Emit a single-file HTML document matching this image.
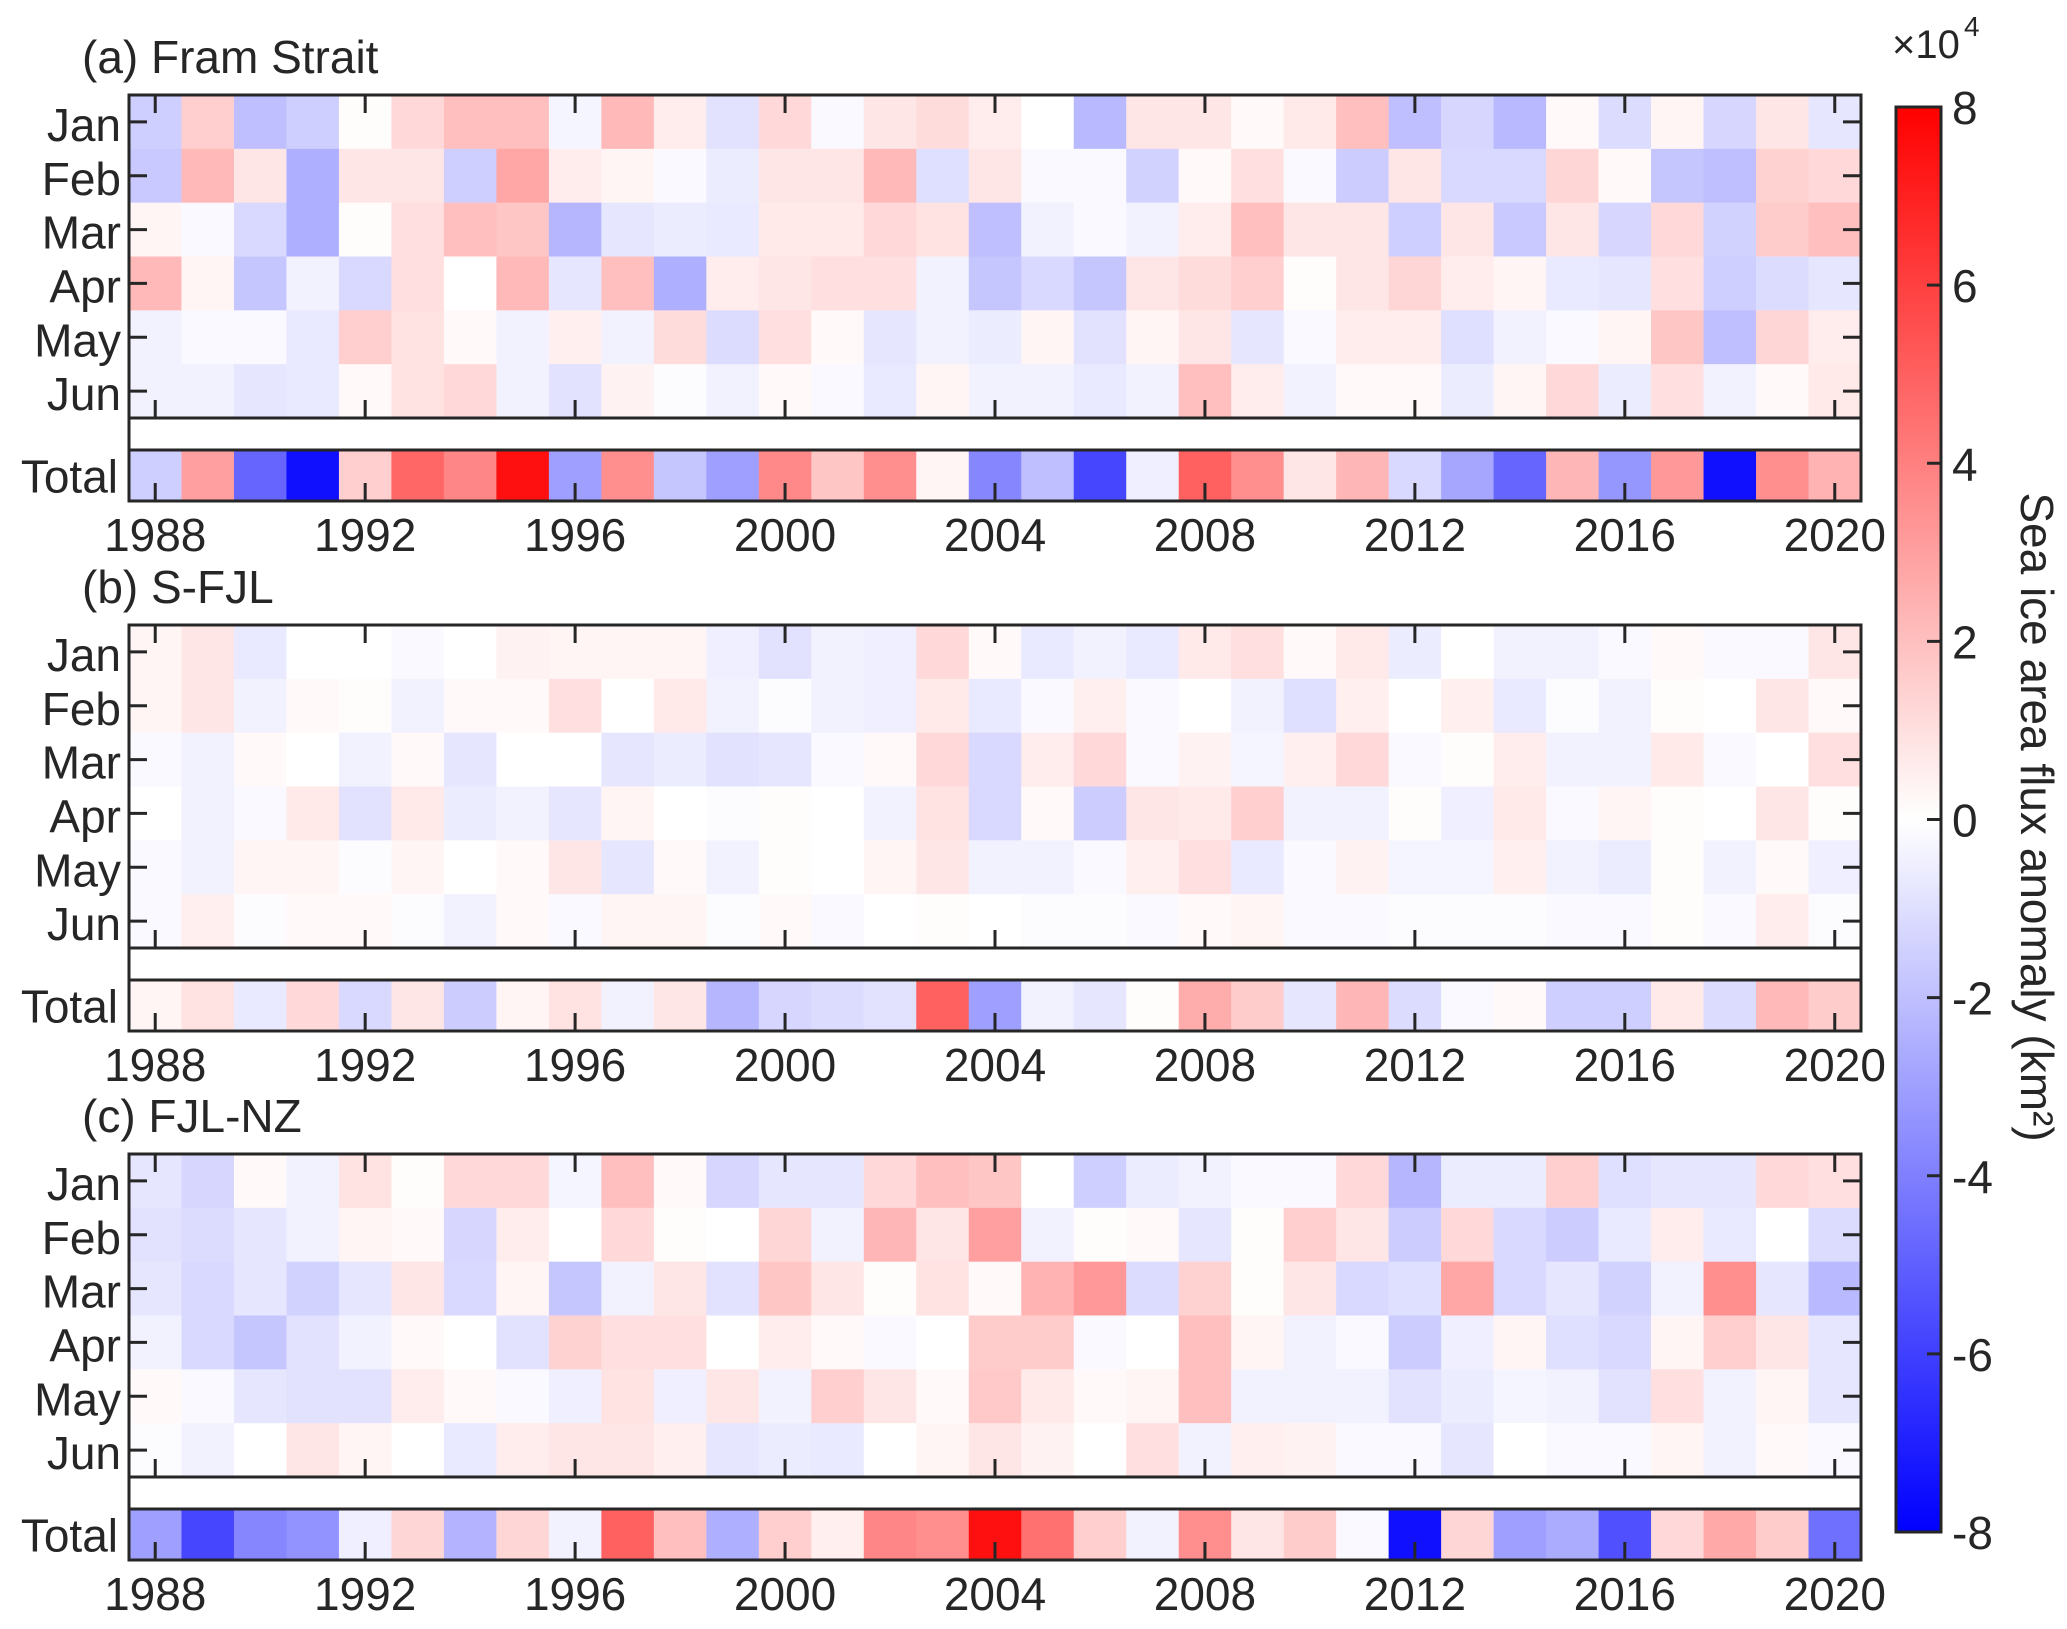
<!DOCTYPE html>
<html><head><meta charset="utf-8"><style>
html,body{margin:0;padding:0;background:#fff}
svg{display:block}
text{font-family:"Liberation Sans",Arial,sans-serif;fill:#262626}
</style></head><body>
<svg id="chart" width="2067" height="1629" viewBox="0 0 2067 1629" xmlns="http://www.w3.org/2000/svg">
<defs>
<linearGradient id="cbgrad" x1="0" y1="0" x2="0" y2="1">
<stop offset="0" stop-color="#ff0000"/><stop offset="0.5" stop-color="#ffffff"/><stop offset="1" stop-color="#0000ff"/>
</linearGradient>
</defs>
</svg>
<script>
const years = [1988,1989,1990,1991,1992,1993,1994,1995,1996,1997,1998,1999,2000,2001,2002,2003,2004,2005,2006,2007,2008,2009,2010,2011,2012,2013,2014,2015,2016,2017,2018,2019,2020];
const months = ["Jan","Feb","Mar","Apr","May","Jun"];
const yearTicks = [1988,1992,1996,2000,2004,2008,2012,2016,2020];
const cbTicks = [8,6,4,2,0,-2,-4,-6,-8];
const panelTitles = ["(a) Fram Strait","(b) S-FJL","(c) FJL-NZ"];
// values in units of 1e4 km^2
const framMonthly = [
[-1.5,1.5,-2,-1.5,0.1,1.2,2,2,-0.3,2.2,0.6,-0.9,1.2,-0.2,0.8,1.1,0.6,0,-2.2,0.8,0.8,0.2,0.7,2,-2,-1.3,-2.2,0.2,-1.1,0.3,-1.3,0.8,-0.8],
[-1.7,2.2,0.8,-2.5,0.8,0.8,-1.5,2.8,0.6,0.3,-0.2,-0.6,0.8,0.8,2.2,-1,0.8,-0.2,-0.2,-1.4,0.2,1,-0.2,-1.6,0.8,-1.2,-1.2,1.3,0.2,-1.8,-2,1.4,1.2],
[0.3,-0.2,-1.2,-2.5,0.1,1,2,1.8,-2.3,-0.8,-0.6,-0.7,0.7,0.7,1.2,0.9,-2,-0.4,-0.2,-0.4,0.6,2,0.8,0.8,-1.5,0.8,-1.7,0.8,-1.3,1.2,-1.4,1.6,2],
[2.2,0.3,-1.8,-0.4,-1.2,1,0,2.2,-0.8,2,-2.5,0.6,0.8,1,1,-0.4,-1.8,-1.2,-1.8,0.8,1.1,1.5,0.1,0.8,1.3,0.6,0.3,-0.7,-0.8,1,-1.5,-1.1,-0.8],
[-0.4,-0.2,-0.2,-0.7,1.5,0.9,0.2,-0.4,0.5,-0.4,1.1,-1.1,1,0.2,-0.8,-0.4,-0.6,0.3,-0.9,0.3,0.8,-0.8,-0.2,0.6,0.6,-1,-0.4,-0.2,0.3,1.8,-2,1.3,0.6],
[-0.4,-0.4,-0.8,-0.7,0.2,0.9,1.2,-0.4,-0.9,0.4,-0.1,-0.4,0.2,-0.2,-0.7,0.3,-0.4,-0.4,-0.7,-0.4,2,0.6,-0.4,0.2,0.2,-0.6,0.3,1.2,-0.6,1,-0.4,0.2,0.7]];
const framTotal = [-1.5,3,-4.8,-7.5,1.5,4.8,3.8,7.5,-3,3.5,-1.8,-3,3.7,1.8,3.5,0.3,-3.8,-2,-5.8,-0.5,5,3.5,0.8,2.3,-1.2,-2.8,-4.8,2.3,-3.3,3.2,-7.5,3.5,2.4];
const sfjlMonthly = [
[0.3,0.8,-0.7,0,0,-0.2,0,0.4,0.3,0.3,0.3,-0.5,-0.9,-0.4,-0.5,1.2,0.2,-0.7,-0.4,-0.7,0.7,1,0.2,0.7,-0.6,0,-0.4,-0.4,-0.2,0.2,-0.2,-0.2,0.8],
[0.3,0.8,-0.4,0.2,0.1,-0.4,0.2,0.2,1,0,0.7,-0.4,-0.1,-0.4,-0.5,0.7,-0.7,-0.2,0.5,-0.2,0,-0.4,-1,0.5,0,0.5,-0.7,-0.1,-0.4,0.1,0,0.8,0.2],
[-0.2,-0.4,0.2,0,-0.4,0.2,-0.8,0,0,-0.8,-0.6,-0.9,-0.8,-0.2,0.2,1.2,-1.2,0.6,1.2,-0.2,0.4,-0.3,0.5,1.2,-0.2,0.1,0.6,-0.4,-0.4,0.7,-0.2,0,1],
[0,-0.4,-0.2,0.7,-0.9,0.7,-0.6,-0.4,-0.8,0.3,0,-0.1,0.1,0,-0.4,0.9,-1.2,0.2,-1.6,0.8,0.7,1.5,-0.4,-0.4,0.1,-0.5,0.7,-0.2,0.3,0.1,0,0.8,0.1],
[-0.2,-0.4,0.3,0.3,-0.1,0.3,0,0.2,0.8,-0.8,0.2,-0.4,0.1,0,0.3,0.8,-0.4,-0.4,-0.2,0.5,1,-0.7,-0.2,0.4,-0.3,-0.3,0.5,-0.4,-0.6,0.1,-0.4,0.2,-0.5],
[-0.2,0.5,-0.1,0.2,0.2,-0.1,-0.4,0.2,-0.2,0.3,0.3,-0.1,0.2,-0.2,0,0.1,0,-0.1,-0.1,-0.2,0.2,0.3,-0.2,-0.2,-0.1,-0.1,-0.1,-0.2,-0.2,0.1,-0.2,0.6,-0.1]];
const sfjlTotal = [0.3,0.9,-0.7,1.2,-1.2,0.8,-1.6,0.3,0.9,-0.4,0.8,-2.3,-1.3,-1.1,-0.9,5,-3,-0.4,-0.8,0.1,2.6,1.6,-0.8,2.3,-1.1,-0.2,0.2,-1.5,-1.5,0.7,-1.1,2.2,1.6];
const fjlnzMonthly = [
[-0.8,-1.3,0.2,-0.4,0.9,0.1,1.2,1.2,-0.3,2,0.2,-1.3,-0.8,-0.8,1.2,2,1.8,0,-1.5,-0.6,-0.4,-0.2,-0.2,1.2,-2.3,-0.6,-0.6,1.5,-1,-0.8,-0.8,1.2,1],
[-0.9,-1.1,-0.8,-0.4,0.3,0.2,-1.3,0.6,0,1.2,0.1,0,1.3,-0.4,2.3,0.8,3,-0.4,0.1,0.2,-0.8,0.1,1.5,0.8,-1.6,1.2,-1.2,-1.6,-0.7,0.6,-0.7,0,-1.1],
[-0.8,-1.2,-0.8,-1.4,-0.8,0.8,-1.2,0.3,-1.8,-0.4,0.8,-0.9,1.8,0.8,0.1,0.9,0.2,2.4,3.2,-1.1,1.4,0.1,0.8,-1.2,-1,2.8,-1.2,-0.8,-1.4,-0.4,3.5,-0.8,-2.2],
[-0.4,-1.2,-1.8,-0.9,-0.4,0.2,0,-0.9,1.4,1,1,0,0.6,0.2,-0.2,0,1.6,1.6,-0.2,0,2,0.3,-0.4,-0.2,-1.6,-0.5,0.3,-1,-1.2,0.3,1.5,0.8,-0.8],
[0.2,-0.2,-0.8,-0.9,-0.9,0.6,0.2,-0.2,-0.5,0.9,-0.5,0.8,-0.4,1.5,0.8,0.2,1.7,0.7,0.2,0.3,2,-0.4,-0.4,-0.4,-0.9,-0.6,-0.3,-0.4,-0.9,1,-0.4,0.3,-0.8],
[-0.1,-0.4,0,0.8,0.3,0,-0.7,0.6,0.8,0.8,0.5,-0.8,-0.6,-0.7,0,0.3,0.8,0.4,0,1,-0.4,0.5,0.4,-0.2,-0.2,-0.8,0,-0.2,-0.2,0.3,-0.4,0.2,-0.2]];
const fjlnzTotal = [-3,-5.8,-3.8,-3.4,-0.5,1.3,-2.4,1.3,-0.4,5,2,-2.5,1.5,0.5,3.8,3.5,7.5,4.5,1.5,-0.4,3.5,0.8,1.6,-0.2,-7.5,1.3,-3,-2.6,-5.5,1.2,2.7,1.6,-4.5];

const svg = document.getElementById('chart');
const NS = 'http://www.w3.org/2000/svg';
function mk(tag, attrs, parent){const e=document.createElementNS(NS,tag);for(const k in attrs)e.setAttribute(k,attrs[k]);(parent||svg).appendChild(e);return e;}
const X0=129, X1=1861, colW=(X1-X0)/years.length;
const xOf = y => X0 + (y-years[0])*colW;
const VMAX=8;
function color(v){const t=Math.min(1,Math.abs(v)/VMAX);const c=Math.round(255*(1-t));return v>=0?`rgb(255,${c},${c})`:`rgb(${c},${c},255)`;}
const panelTops=[95,625,1154];
const MH=323, TOFF=355, TH=51, rowH=MH/6;
const datasets=[[framMonthly,framTotal],[sfjlMonthly,sfjlTotal],[fjlnzMonthly,fjlnzTotal]];
const slugs=['fram-strait','s-fjl','fjl-nz'];
const STROKE='#262626';
const FS=46;

datasets.forEach((ds,p)=>{
  const top=panelTops[p], slug=slugs[p];
  const g=mk('g',{});
  
  
  const t=mk('text',{x:82,y:top-22,'font-size':FS},g);
  t.textContent=panelTitles[p];
  
  
  ds[0].forEach((row,m)=>{
    row.forEach((v,i)=>{
      const r=mk('rect',{x:xOf(years[i]),y:top+m*rowH,width:colW+0.6,height:rowH+0.6,fill:color(v)},g);
      
      
    });
    const lab=mk('text',{x:121,y:top+(m+0.5)*rowH+19,'font-size':FS,'text-anchor':'end'},g);
    lab.textContent=months[m];
    
    
    const yc=top+(m+0.5)*rowH;
    mk('line',{x1:X0,x2:X0+18,y1:yc,y2:yc,stroke:STROKE,'stroke-width':3},g);
    mk('line',{x1:X1,x2:X1-18,y1:yc,y2:yc,stroke:STROKE,'stroke-width':3},g);
  });
  const tt=top+TOFF;
  ds[1].forEach((v,i)=>{
    const r=mk('rect',{x:xOf(years[i]),y:tt,width:colW+0.6,height:TH,fill:color(v)},g);
    
    
  });
  const tl=mk('text',{x:118,y:tt+TH/2+17,'font-size':FS,'text-anchor':'end'},g);
  tl.textContent='Total';
  
  
  mk('rect',{x:X0,y:top,width:X1-X0,height:TOFF+TH,fill:'none',stroke:STROKE,'stroke-width':3},g);
  mk('line',{x1:X0,x2:X1,y1:top+MH,y2:top+MH,stroke:STROKE,'stroke-width':3},g);
  mk('line',{x1:X0,x2:X1,y1:tt,y2:tt,stroke:STROKE,'stroke-width':3},g);
  yearTicks.forEach(yr=>{
    const xc=xOf(yr)+colW/2;
    mk('line',{x1:xc,x2:xc,y1:top,y2:top+18,stroke:STROKE,'stroke-width':3},g);
    mk('line',{x1:xc,x2:xc,y1:top+MH,y2:top+MH-18,stroke:STROKE,'stroke-width':3},g);
    mk('line',{x1:xc,x2:xc,y1:tt+TH,y2:tt+TH-18,stroke:STROKE,'stroke-width':3},g);
    const yl=mk('text',{x:xc,y:tt+TH+50,'font-size':FS,'text-anchor':'middle'},g);
    yl.textContent=yr;
    
    
  });
});

const CB_X=1896, CB_W=45, CB_TOP=107, CB_BOT=1532;
const cbY = v => CB_TOP + (VMAX - v)/(2*VMAX)*(CB_BOT-CB_TOP);
const cb=mk('g',{});


mk('rect',{x:CB_X,y:CB_TOP,width:CB_W,height:CB_BOT-CB_TOP,fill:'url(#cbgrad)',stroke:STROKE,'stroke-width':3},cb);
cbTicks.forEach(v=>{
  const y=cbY(v);
  mk('line',{x1:CB_X+CB_W,x2:CB_X+CB_W-14,y1:y,y2:y,stroke:STROKE,'stroke-width':3},cb);
  const tl=mk('text',{x:1952,y:y+17,'font-size':FS},cb);
  tl.textContent=String(v);
  
  
});
const ex=mk('text',{x:1892,y:58,'font-size':40},cb);
ex.textContent='×10';


const ex2=mk('text',{x:1964,y:36,'font-size':28},cb);
ex2.textContent='4';


const al=mk('text',{x:0,y:0,'font-size':FS,'text-anchor':'middle',transform:'translate(2021,817) rotate(90)'},cb);
al.textContent='Sea ice area flux anomaly (km²)';


</script>
</body></html>
